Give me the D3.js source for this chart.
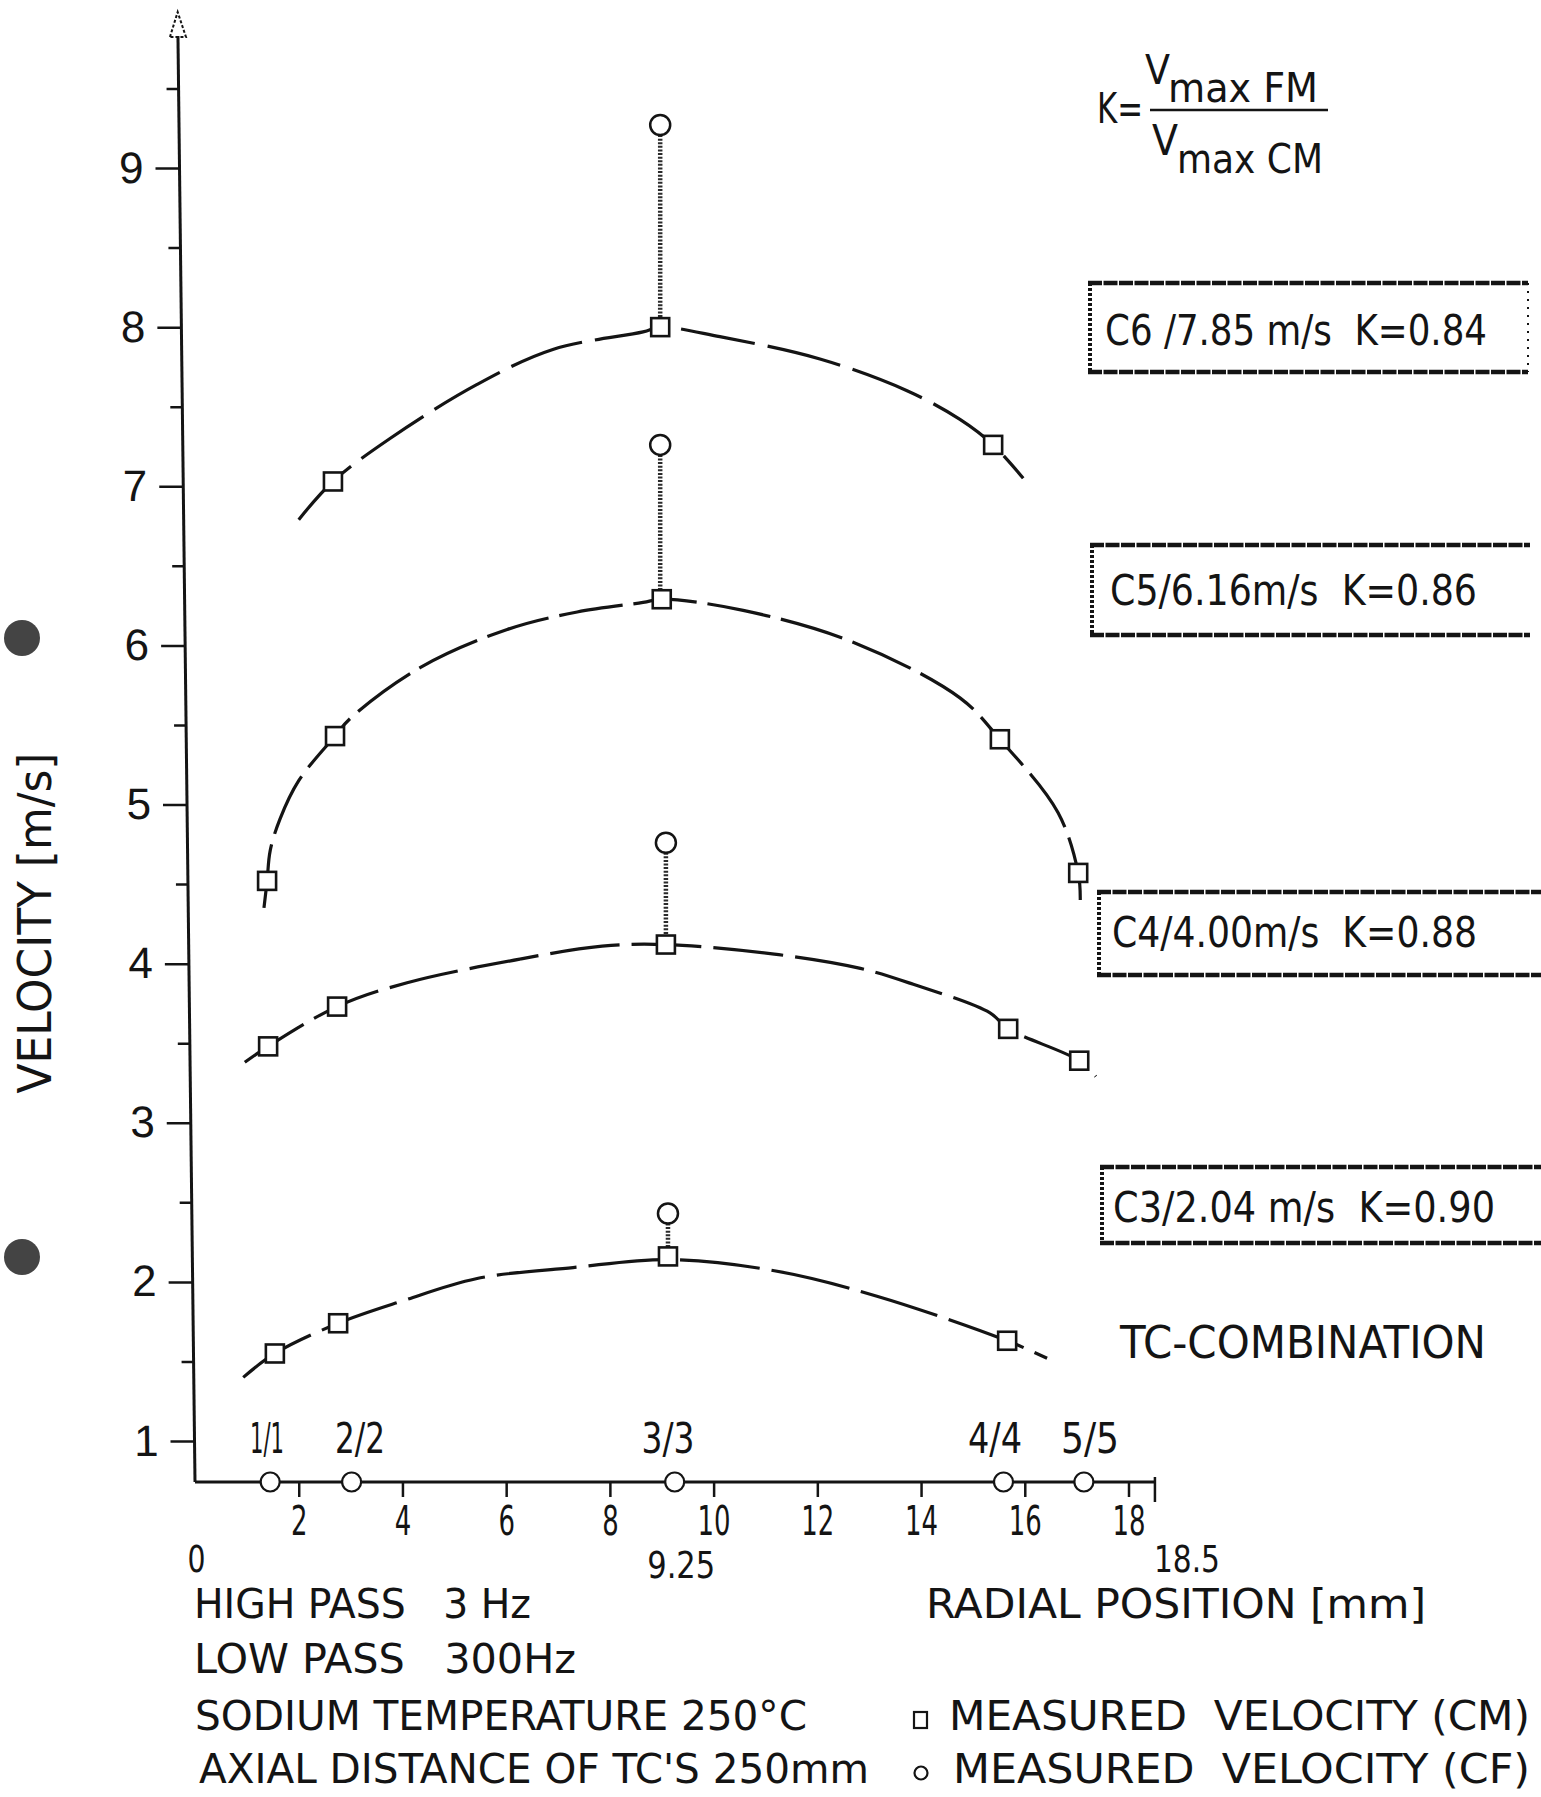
<!DOCTYPE html>
<html><head><meta charset="utf-8">
<script src="https://cdn.jsdelivr.net/npm/d3@7"></script>
<style>
html,body{margin:0;padding:0;background:#fff;}
svg{display:block;background:#fff;}
text{font-family:"Liberation Sans Narrow","DejaVu Sans Condensed","Liberation Sans",Arial,sans-serif;fill:#141414;white-space:pre;}
</style></head><body>
<svg id="chart" width="1541" height="1797"></svg>
<script>
// ---------- data ----------
const xTickValues = [2, 4, 6, 8, 10, 12, 14, 16, 18];
const xExtraValues = [0, 9.25, 18.5];
const xExtraLabels = ["0", "9.25", "18.5"];
const yTickValues = [1, 2, 3, 4, 5, 6, 7, 8, 9];
const yMinorTicks = [1.5, 2.5, 3.5, 4.5, 5.5, 6.5, 7.5, 8.5, 9.5];
const tcLabels = ["1/1", "2/2", "3/3", "4/4", "5/5"];
const tcPositions = [1.45, 3.02, 9.25, 15.59, 17.14];
const seriesNames = ["C6", "C5", "C4", "C3"];
const boxLabels = ["C6 /7.85 m/s  K=0.84", "C5/6.16m/s  K=0.86", "C4/4.00m/s  K=0.88", "C3/2.04 m/s  K=0.90"];

// measured velocity (CM) - squares
const c6CMx = [2.66, 8.97, 15.39];               const c6CMy = [7.03, 8.00, 7.26];
const c5CMx = [1.39, 2.70, 9.00, 15.52, 17.03];  const c5CMy = [4.52, 5.43, 6.29, 5.41, 4.57];
const c4CMx = [1.41, 2.74, 9.08, 15.68, 17.05];  const c4CMy = [3.48, 3.73, 4.12, 3.59, 3.39];
const c3CMx = [1.54, 2.76, 9.12, 15.66];         const c3CMy = [1.55, 1.74, 2.16, 1.63];
// measured velocity (CF) - circles at the centre
const cfX = [8.97, 8.97, 9.08, 9.12];
const cfY = [9.27, 7.26, 4.76, 2.43];
// dashed fitted profiles
const c6FitX = [2.0, 2.66, 3.76, 5.44, 6.9, 8.64, 8.97, 10.12, 12.05, 13.73, 14.75, 15.39, 15.97];
const c6FitY = [6.79, 7.03, 7.30, 7.64, 7.86, 7.97, 8.00, 7.94, 7.80, 7.60, 7.42, 7.26, 7.05];
const c5FitX = [1.33, 1.39, 1.45, 1.64, 2.0, 2.70, 2.99, 4.34, 6.02, 7.37, 8.64, 9.0, 10.57, 12.69, 14.75, 15.52, 16.64, 17.03, 17.07];
const c5FitY = [4.35, 4.52, 4.71, 4.91, 5.15, 5.43, 5.54, 5.86, 6.10, 6.21, 6.27, 6.29, 6.22, 6.02, 5.67, 5.41, 4.95, 4.57, 4.40];
const c4FitX = [0.96, 1.41, 2.74, 4.09, 6.29, 7.85, 9.08, 11.17, 12.83, 13.85, 15.33, 15.68, 17.05, 17.37];
const c4FitY = [3.38, 3.48, 3.73, 3.88, 4.03, 4.11, 4.12, 4.06, 3.97, 3.87, 3.69, 3.59, 3.39, 3.29];
const c3FitX = [0.93, 1.54, 2.76, 4.0, 5.42, 7.29, 9.12, 11.17, 13.15, 15.66, 16.43];
const c3FitY = [1.40, 1.55, 1.74, 1.88, 2.02, 2.09, 2.14, 2.07, 1.91, 1.63, 1.52];

const notes = ["HIGH PASS   3 Hz", "LOW PASS   300Hz", "SODIUM TEMPERATURE 250°C", "AXIAL DISTANCE OF TC'S 250mm"];
const legendLabels = ["MEASURED  VELOCITY (CM)", "MEASURED  VELOCITY (CF)"];

// ---------- build ----------
const series = [
  {name: seriesNames[0], cmx: c6CMx, cmy: c6CMy, fx: c6FitX, fy: c6FitY, dash: "75,13"},
  {name: seriesNames[1], cmx: c5CMx, cmy: c5CMy, fx: c5FitX, fy: c5FitY, dash: "64,11"},
  {name: seriesNames[2], cmx: c4CMx, cmy: c4CMy, fx: c4FitX, fy: c4FitY, dash: "70,12"},
  {name: seriesNames[3], cmx: c3CMx, cmy: c3CMy, fx: c3FitX, fy: c3FitY, dash: "80,12"}
];

const ink = "#141414";
const svg = d3.select("#chart");
const x = d3.scaleLinear().domain([0, 18]).range([195, 1128.5]);
const y = d3.scaleLinear().domain([1, 9]).range([1441, 168]);
const axisY = 1482;

function txt(g, px, py, s, size, len, anchor) {
  const t = g.append("text").attr("x", px).attr("y", py).attr("font-size", size).text(s);
  if (len) t.attr("textLength", len).attr("lengthAdjust", "spacingAndGlyphs");
  if (anchor) t.attr("text-anchor", anchor);
  return t;
}

// binder holes (scan artefacts)
svg.append("circle").attr("cx", 22).attr("cy", 638).attr("r", 18).attr("fill", "#444");
svg.append("circle").attr("cx", 22).attr("cy", 1257).attr("r", 18).attr("fill", "#444");

// ---------- Y axis (slightly slanted like the hand drawing) ----------
const tanA = (195 - 178) / (axisY - 40);
const gy = svg.append("g")
  .attr("transform", `translate(${195 - axisY * tanA},0) skewX(${Math.atan(tanA) * 180 / Math.PI})`);
gy.append("line").attr("x1", 0).attr("x2", 0).attr("y1", axisY).attr("y2", 36)
  .attr("stroke", ink).attr("stroke-width", 3);
gy.append("path").attr("d", "M-8,37 L0,12 L8,37 Z").attr("fill", "none")
  .attr("stroke", ink).attr("stroke-width", 2).attr("stroke-dasharray", "3,2");
const yAxis = d3.axisLeft(y).tickValues(yTickValues).tickSize(24).tickPadding(12).tickSizeOuter(0)
  .tickFormat(d3.format("d"));
const gya = gy.append("g").call(yAxis);
gya.select(".domain").remove();
gya.selectAll("line").attr("stroke", ink).attr("stroke-width", 2.5);
gya.selectAll("text").attr("font-size", 44).attr("fill", ink)
  .style("font-family", "'Liberation Sans', Arial, sans-serif");
const gym = gy.append("g").call(d3.axisLeft(y).tickValues(yMinorTicks).tickSize(12).tickFormat(""));
gym.select(".domain").remove();
gym.selectAll("line").attr("stroke", ink).attr("stroke-width", 2.5);

// y label
svg.append("text").attr("transform", "translate(51,923) rotate(-90)")
  .attr("text-anchor", "middle").attr("font-size", 46)
  .attr("textLength", 341).attr("lengthAdjust", "spacingAndGlyphs")
  .text("VELOCITY [m/s]");

// ---------- X axis ----------
const gx = svg.append("g").attr("transform", `translate(0,${axisY})`);
gx.append("line").attr("x1", x(0)).attr("x2", x(18.5)).attr("y1", 0).attr("y2", 0)
  .attr("stroke", ink).attr("stroke-width", 3);
const gxa = gx.append("g").call(d3.axisBottom(x).tickValues(xTickValues).tickSize(15).tickPadding(10)
  .tickSizeOuter(0).tickFormat(d3.format("d")));
gxa.select(".domain").remove();
gxa.selectAll("line").attr("stroke", ink).attr("stroke-width", 2.5);
gxa.selectAll("text").attr("font-size", 40).attr("fill", ink)
  .attr("textLength", d => String(d).length * 16.5).attr("lengthAdjust", "spacingAndGlyphs");
const gxe = gx.append("g").call(d3.axisBottom(x).tickValues(xExtraValues).tickSize(0).tickPadding(63)
  .tickSizeOuter(0).tickFormat((d, i) => xExtraLabels[i]));
gxe.select(".domain").remove();
gxe.selectAll("text").attr("font-size", 38).attr("fill", ink)
  .attr("y", (d, i) => [63, 69, 63][i])
  .attr("dx", (d, i) => [1, 6, 32][i])
  .attr("textLength", (d, i) => [18, 68, 66][i]).attr("lengthAdjust", "spacingAndGlyphs");
const gxt = gx.append("g").call(d3.axisBottom(x).tickValues([18.5]).tickSize(20).tickSizeOuter(0).tickFormat(""));
gxt.select(".domain").remove();
gxt.selectAll("line").attr("stroke", ink).attr("stroke-width", 2.5).attr("y1", -5);

// TC positions on the axis
const tcG = svg.append("g");
tcG.selectAll("circle").data(tcPositions).join("circle")
  .attr("cx", d => x(d)).attr("cy", axisY).attr("r", 9.5)
  .attr("fill", "#fff").attr("stroke", ink).attr("stroke-width", 2.2);
const tcW = [34, 50, 53, 54, 58];
const tcCx = [267, 360, 668, 995, 1090];
tcLabels.forEach((s, i) => txt(tcG, tcCx[i], 1453, s, 42, tcW[i], "middle"));

// ---------- profiles ----------
const line = d3.line().x(d => x(d[0])).y(d => y(d[1])).curve(d3.curveCatmullRom.alpha(0.5));
const plot = svg.append("g");
series.forEach((s, k) => {
  const pts = s.fx.map((v, i) => [v, s.fy[i]]);
  plot.append("path").attr("d", line(pts)).attr("fill", "none")
    .attr("stroke", ink).attr("stroke-width", 3.2).attr("stroke-dasharray", s.dash);
  // stem from centre square to CF circle
  const ci = d3.minIndex(s.cmx, v => Math.abs(v - cfX[k]));
  plot.append("line").attr("x1", x(cfX[k])).attr("x2", x(cfX[k]))
    .attr("y1", y(cfY[k]) + 10).attr("y2", y(s.cmy[ci]) - 9)
    .attr("stroke", "#2a2a2a").attr("stroke-width", 4.5).attr("stroke-dasharray", "2,1.6");
  plot.append("circle").attr("cx", x(cfX[k])).attr("cy", y(cfY[k])).attr("r", 10)
    .attr("fill", "#fff").attr("stroke", ink).attr("stroke-width", 2.5);
  plot.selectAll(null).data(s.cmx).join("rect")
    .attr("x", d => x(d) - 9).attr("y", (d, i) => y(s.cmy[i]) - 9)
    .attr("width", 18).attr("height", 18)
    .attr("fill", "#fff").attr("stroke", ink).attr("stroke-width", 2.6);
});

// ---------- annotation boxes ----------
const boxGeom = [[1088, 283, 1528, 372, 1105, 345, 382], [1090, 545, 1530, 635, 1110, 605, 367],
                 [1097, 892, 1541, 975, 1112, 947, 365], [1100, 1167, 1541, 1243, 1113, 1222, 382]];
const bx = svg.append("g");
boxLabels.forEach((lab, i) => {
  const [x1, y1, x2, y2, tx, ty, tw] = boxGeom[i];
  bx.append("line").attr("x1", x1).attr("x2", x2).attr("y1", y1).attr("y2", y1)
    .attr("stroke", ink).attr("stroke-width", 4.5).attr("stroke-dasharray", "14,1.5");
  bx.append("line").attr("x1", x1).attr("x2", x2).attr("y1", y2).attr("y2", y2)
    .attr("stroke", ink).attr("stroke-width", 4.5).attr("stroke-dasharray", "14,1.5");
  bx.append("line").attr("x1", x1 + 2).attr("x2", x1 + 2).attr("y1", y1).attr("y2", y2)
    .attr("stroke", ink).attr("stroke-width", 4).attr("stroke-dasharray", "3,2");
  if (i === 0) bx.append("line").attr("x1", x2).attr("x2", x2).attr("y1", y1).attr("y2", y2)
    .attr("stroke", ink).attr("stroke-width", 2).attr("stroke-dasharray", "2,6");
  txt(bx, tx, ty, lab, 42, tw);
});
txt(svg, 1120, 1358, "TC-COMBINATION", 44, 366);

// ---------- K formula ----------
const fg = svg.append("g");
txt(fg, 1097, 123, "K=", 42, 46);
txt(fg, 1145, 84, "V", 40, 25);
txt(fg, 1168, 102, "max FM", 40, 150);
fg.append("line").attr("x1", 1150).attr("x2", 1328).attr("y1", 110).attr("y2", 110)
  .attr("stroke", ink).attr("stroke-width", 2.5);
txt(fg, 1152, 155, "V", 42, 26);
txt(fg, 1177, 173, "max CM", 40, 146);

// ---------- notes & legend ----------
const ng = svg.append("g");
const noteGeom = [[194, 1618, 337], [194, 1673, 382], [195, 1730, 612], [199, 1783, 670]];
notes.forEach((s, i) => txt(ng, noteGeom[i][0], noteGeom[i][1], s, 40, noteGeom[i][2]));
txt(ng, 926, 1618, "RADIAL POSITION [mm]", 40, 500);
ng.append("rect").attr("x", 914).attr("y", 1712).attr("width", 13).attr("height", 16)
  .attr("fill", "#fff").attr("stroke", ink).attr("stroke-width", 2.2);
txt(ng, 949, 1730, legendLabels[0], 40, 581);
ng.append("circle").attr("cx", 921).attr("cy", 1773).attr("r", 6.5)
  .attr("fill", "#fff").attr("stroke", ink).attr("stroke-width", 2.2);
txt(ng, 953, 1783, legendLabels[1], 40, 577);
</script>
</body></html>
